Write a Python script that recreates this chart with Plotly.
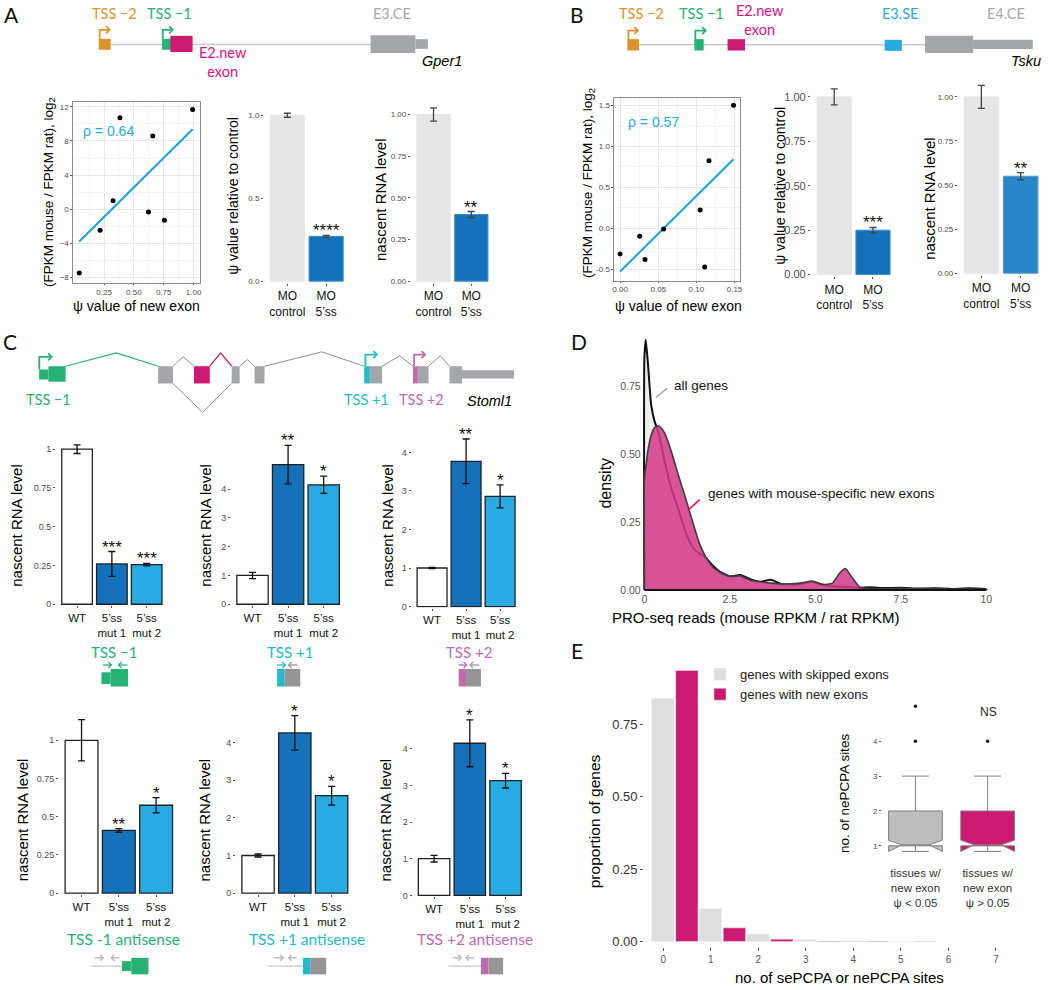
import numpy as np
import plotly.graph_objects as go

W, H = 1050, 990
FONT = "Liberation Sans"
DIAG = "Lato"

ORANGE = "#dd922c"
GREEN = "#27b273"
MAGENTA = "#cc1a72"
MAG_TXT = "#e3117f"
GREY_EX = "#a5a6a9"
SKY = "#27aae1"
TEAL = "#22bcc8"
PURPLE = "#c06ab4"
DARKBLUE = "#1472bb"
LIGHTBLUE = "#28aae2"
CTRL = "#e6e6e6"
TICK = "#4d4d4d"

# ---- panel A: Gper1
a_psi = [0.042, 0.217, 0.325, 0.383, 0.622, 0.658, 0.756, 0.992]
a_ratio = [-7.46, -2.44, 0.99, 10.72, -0.33, 8.58, -1.27, 11.69]
mo_labels = ["MO<br>control", "MO<br>5’ss"]
a_psi_rel = [1.0, 0.27]
a_psi_rel_err = [0.012, 0.006]
a_nascent = [1.0, 0.40]
a_nascent_err = [0.04, 0.018]

# ---- panel B: Tsku
b_psi = [0.0, 0.0257, 0.0326, 0.057, 0.105, 0.1109, 0.1165, 0.1487]
b_ratio = [-0.313, -0.098, -0.382, -0.008, 0.224, -0.472, 0.825, 1.504]
b_psi_rel = [1.0, 0.25]
b_psi_rel_err = [0.045, 0.015]
b_nascent = [1.0, 0.55]
b_nascent_err = [0.065, 0.02]

# ---- panel C: Stoml1 reporters
c_groups = ["WT", "5’ss<br>mut 1", "5’ss<br>mut 2"]
c_tss_m1 = [1.0, 0.26, 0.255]
c_tss_m1_err = [0.028, 0.08, 0.008]
c_tss_m1_sig = ["", "***", "***"]
c_tss_p1 = [1.0, 4.85, 4.15]
c_tss_p1_err = [0.11, 0.67, 0.30]
c_tss_p1_sig = ["", "**", "*"]
c_tss_p2 = [1.0, 3.77, 2.86]
c_tss_p2_err = [0.015, 0.58, 0.30]
c_tss_p2_sig = ["", "**", "*"]
c_as_m1 = [1.0, 0.41, 0.575]
c_as_m1_err = [0.135, 0.012, 0.05]
c_as_m1_sig = ["", "**", "*"]
c_as_p1 = [1.0, 4.26, 2.59]
c_as_p1_err = [0.04, 0.46, 0.25]
c_as_p1_sig = ["", "*", "*"]
c_as_p2 = [1.0, 4.15, 3.13]
c_as_p2_err = [0.09, 0.64, 0.20]
c_as_p2_sig = ["", "*", "*"]

# ---- panel D: PRO-seq density
d_x = [0.0, 0.04, 0.1, 0.2, 0.3, 0.4, 0.5, 0.6, 0.8, 1.0, 1.2, 1.4, 1.6, 1.8, 2.0,
       2.2, 2.5, 2.8, 3.1, 3.4, 3.7, 4.0, 4.3, 4.6, 4.9, 5.2, 5.5, 5.7, 5.88, 6.05,
       6.3, 6.6, 7.0, 7.5, 8.0, 8.5, 9.0, 9.5, 10.0]
d_all = [0.85, 0.92, 0.84, 0.68, 0.62, 0.585, 0.53, 0.47, 0.37, 0.295, 0.215, 0.16,
         0.135, 0.118, 0.09, 0.068, 0.05, 0.055, 0.04, 0.03, 0.038, 0.022, 0.02, 0.022,
         0.03, 0.02, 0.014, 0.012, 0.011, 0.01, 0.008, 0.01, 0.007, 0.008, 0.005, 0.006,
         0.004, 0.006, 0.002]
d_new = [0.41, 0.45, 0.51, 0.57, 0.597, 0.604, 0.595, 0.575, 0.505, 0.42, 0.34, 0.255,
         0.175, 0.12, 0.085, 0.066, 0.05, 0.052, 0.036, 0.03, 0.025, 0.022, 0.023, 0.026,
         0.033, 0.02, 0.025, 0.06, 0.079, 0.05, 0.01, 0.005, 0.004, 0.006, 0.004, 0.006,
         0.003, 0.003, 0.002]

# ---- panel E: PCPA sites
e_sites = [0, 1, 2, 3, 4, 5]
e_skipped = [0.84, 0.114, 0.026, 0.007, 0.002, 0.001]
e_new = [0.936, 0.047, 0.008, 0.002, 0.002, 0.001]
e_box_groups = ["tissues w/<br>new exon<br>ψ < 0.05", "tissues w/<br>new exon<br>ψ > 0.05"]
e_box_q1 = [1, 1]
e_box_med = [1, 1]
e_box_q3 = [2, 2]
e_box_lo = [1, 1]
e_box_hi = [3, 3]
e_box_notch = [0.16, 0.16]
e_out_low = [4, 5]
e_out_high = [4]

# pixel boxes (left, right, top, bottom) for the non-bar plot areas
BOXES = {
    1: (71.7, 199, 102.3, 284.3),
    4: (616, 742.3, 98.3, 281.7),
    13: (643.3, 991.7, 330, 594),
    14: (645.9, 1011.6, 660.4, 951.1),
    15: (885, 1025, 705, 862),
}


def sfx(i):
    return "" if i == 1 else str(i)


fig = go.Figure()
axes = {}
notes = []
shapes = []


def tickfont(size=8, color=TICK):
    return dict(family=FONT, size=size, color=color)


def set_axes(i, xk, yk, box=None):
    x0, x1, top, bot = box or BOXES[i]
    base = dict(showgrid=False, zeroline=False, showline=False, ticks="outside",
                ticklen=2, tickcolor="#555", fixedrange=True)
    xd = dict(base, domain=[x0 / W, x1 / W], anchor="y" + sfx(i))
    yd = dict(base, domain=[1 - bot / H, 1 - top / H], anchor="x" + sfx(i))
    xd.update(xk)
    yd.update(yk)
    axes["xaxis" + sfx(i)] = xd
    axes["yaxis" + sfx(i)] = yd


def txt(x, y, s, size=14, color="black", family=FONT, angle=0, xanchor="center"):
    notes.append(dict(x=x / W, y=1 - y / H, xref="paper", yref="paper", text=s,
                      showarrow=False, textangle=angle, xanchor=xanchor, yanchor="middle",
                      font=dict(family=family, size=size, color=color)))


def rect(x0, x1, y0, y1, color):
    shapes.append(dict(type="rect", xref="paper", yref="paper", x0=x0 / W, x1=x1 / W,
                       y0=1 - y1 / H, y1=1 - y0 / H, fillcolor=color, line=dict(width=0)))


def path(pts, color, width=1.3):
    d = "M " + " L ".join(f"{x / W:.5f},{1 - y / H:.5f}" for x, y in pts)
    shapes.append(dict(type="path", xref="paper", yref="paper", path=d,
                       line=dict(color=color, width=width)))


def tss_arrow(x, ybase, ytop, xend, color):
    path([(x, ybase), (x, ytop), (xend, ytop)], color, 1.8)
    path([(xend - 3.5, ytop - 3.5), (xend, ytop), (xend - 3.5, ytop + 3.5)], color, 1.8)


def primer(x0, x1, y, color):
    path([(x0, y), (x1, y)], color, 1.3)
    back = 3 if x1 > x0 else -3
    path([(x1 - back, y - 3), (x1, y), (x1 - back, y + 3)], color, 1.3)


# ---------------- scatter panels
def scatter_panel(i, xs, ys):
    ax = "x" + sfx(i)
    ay = "y" + sfx(i)
    fit = np.polyfit(xs, ys, 1)
    ends = np.array([min(xs), max(xs)])
    fig.add_trace(go.Scatter(x=ends, y=np.polyval(fit, ends), mode="lines",
                             line=dict(color="#1c9fe0", width=2), xaxis=ax, yaxis=ay,
                             showlegend=False, hoverinfo="skip"))
    fig.add_trace(go.Scatter(x=xs, y=ys, mode="markers", marker=dict(color="black", size=5),
                             xaxis=ax, yaxis=ay, showlegend=False))


scatter_style = dict(showline=True, mirror=True, linecolor="#8c8c8c", linewidth=1,
                     showgrid=True, gridcolor="#e8e8e8", gridwidth=1, tickfont=tickfont(8))

scatter_panel(1, a_psi, a_ratio)
set_axes(1, dict(scatter_style, range=[-0.008, 1.053], tickvals=[0.25, 0.5, 0.75, 1.0],
                 ticktext=["0.25", "0.50", "0.75", "1.00"], ticklen=1,
                 minor=dict(tickvals=[0.125, 0.375, 0.625, 0.875], showgrid=True,
                            gridcolor="#f4f4f4", ticks="")),
         dict(scatter_style, range=[-8.65, 12.58], tickvals=[-8, -4, 0, 4, 8, 12],
              minor=dict(tickvals=[-6, -2, 2, 6, 10], showgrid=True, gridcolor="#f4f4f4", ticks="")))

scatter_panel(4, b_psi, b_ratio)
set_axes(4, dict(scatter_style, range=[-0.0074, 0.1573], tickvals=[0, 0.05, 0.1, 0.15],
                 ticktext=["0.00", "0.05", "0.10", "0.15"], ticklen=1,
                 minor=dict(tickvals=[0.025, 0.075, 0.125], showgrid=True,
                            gridcolor="#f4f4f4", ticks="")),
         dict(scatter_style, range=[-0.639, 1.594], tickvals=[-0.5, 0, 0.5, 1, 1.5],
              ticktext=["-0.5", "0.0", "0.5", "1.0", "1.5"],
              minor=dict(tickvals=[-0.25, 0.25, 0.75, 1.25], showgrid=True,
                         gridcolor="#f4f4f4", ticks="")))


# ---------------- bar panels
def bar_panel(i, frame, labels, vals, errs, colors, outlines, lw, ecolor, stars,
              ytv, ytt, ysize=8, xsize=12, width=0.88):
    x0, x1, zero, ppu, ymin, ymax = frame
    ax = "x" + sfx(i)
    ay = "y" + sfx(i)
    n = len(vals)
    pos = list(range(1, n + 1))
    fig.add_trace(go.Bar(x=pos, y=vals, width=width,
                         marker=dict(color=colors, line=dict(color=outlines, width=lw)),
                         error_y=dict(type="data", array=errs, color=ecolor, thickness=1.3, width=3.5),
                         xaxis=ax, yaxis=ay, showlegend=False, hoverinfo="skip", cliponaxis=False))
    for k, s in enumerate(stars):
        if s:
            notes.append(dict(x=pos[k], y=vals[k] + errs[k], xref=ax, yref=ay, text=s,
                              showarrow=False, yanchor="bottom", yshift=-7,
                              font=dict(family=FONT, size=17, color="#111")))
    set_axes(i, dict(range=[0.4, n + 0.6], tickvals=pos, ticktext=labels,
                     tickfont=dict(family=FONT, size=xsize, color="#111")),
             dict(range=[ymin, ymax], tickvals=ytv, ticktext=ytt, tickfont=tickfont(ysize)),
             box=(x0, x1, zero - ymax * ppu, zero - ymin * ppu))


T4 = ["0.00", "0.25", "0.50", "0.75", "1.00"]
V4 = [0, 0.25, 0.5, 0.75, 1]
bar_panel(2, (263.6, 349.4, 282.3, 166.6, -0.01, 1.05), mo_labels, a_psi_rel, a_psi_rel_err,
          [CTRL, DARKBLUE], [CTRL, "#3b8fd0"], 1, "#444", ["", "****"],
          [0, 0.5, 1], ["0.0", "0.5", "1.0"])
bar_panel(3, (411.2, 494.8, 282.3, 167.3, -0.01, 1.09), mo_labels, a_nascent, a_nascent_err,
          [CTRL, DARKBLUE], [CTRL, "#3b8fd0"], 1, "#444", ["", "**"], V4, T4)
bar_panel(5, (813.6, 899.4, 275.7, 178.4, -0.01, 1.07), mo_labels, b_psi_rel, b_psi_rel_err,
          [CTRL, DARKBLUE], [CTRL, "#3b8fd0"], 1, "#444", ["", "***"], V4, T4, ysize=11)
bar_panel(6, (961.3, 1048.2, 274.3, 177.0, -0.01, 1.09), mo_labels, b_nascent, b_nascent_err,
          [CTRL, "#2a86c7"], [CTRL, "#4c9ad4"], 1, "#444", ["", "**"], V4, T4)

c_cols = ["white", DARKBLUE, LIGHTBLUE]
c_line = ["#222", "#222", "#222"]
CT1 = ["0", "0.25", "0.5", "0.75", "1"]
CV = [0, 1, 2, 3, 4]
CVT = ["0", "1", "2", "3", "4"]
bar_panel(7, (54.5, 166.5, 606.7, 155.7, -0.006, 1.1), c_groups, c_tss_m1, c_tss_m1_err,
          c_cols, c_line, 1.3, "#111", c_tss_m1_sig, V4, CT1, ysize=9, xsize=11.5)
bar_panel(8, (230.5, 345, 606.7, 28.9, -0.03, 5.8), c_groups, c_tss_p1, c_tss_p1_err,
          c_cols, c_line, 1.3, "#111", c_tss_p1_sig, CV, CVT, ysize=9, xsize=11.5)
bar_panel(9, (412, 521.5, 609, 38.67, -0.025, 4.45), c_groups, c_tss_p2, c_tss_p2_err,
          c_cols, c_line, 1.3, "#111", c_tss_p2_sig, CV, CVT, ysize=9, xsize=11.5)
bar_panel(10, (57.5, 177.5, 896.7, 153.4, -0.006, 1.15), c_groups, c_as_m1, c_as_m1_err,
          c_cols, c_line, 1.3, "#111", c_as_m1_sig, V4, CT1, ysize=9, xsize=11.5)
bar_panel(11, (235.3, 353.7, 896.7, 37.75, -0.025, 4.8), c_groups, c_as_p1, c_as_p1_err,
          c_cols, c_line, 1.3, "#111", c_as_p1_sig, CV, CVT, ysize=9, xsize=11.5)
bar_panel(12, (413, 528, 899, 36.8, -0.025, 4.9), c_groups, c_as_p2, c_as_p2_err,
          c_cols, c_line, 1.3, "#111", c_as_p2_sig, CV, CVT, ysize=9, xsize=11.5)

# ---------------- panel D densities
for ys, fillc, linec, lw in [(d_all, "#efefef", "#111", 2), (d_new, "rgba(212,56,135,0.86)", "#3d3d3d", 1.6)]:
    fig.add_trace(go.Scatter(x=[d_x[0]] + d_x + [d_x[-1]], y=[0] + ys + [0], mode="lines",
                             fill="toself", fillcolor=fillc,
                             line=dict(color=linec, width=lw, shape="spline", smoothing=0.5),
                             xaxis="x13", yaxis="y13", showlegend=False, hoverinfo="skip"))
fig.add_trace(go.Scatter(x=[d_x[0], d_x[-1]], y=[0, 0], mode="lines", line=dict(color="#111", width=2),
                         xaxis="x13", yaxis="y13", showlegend=False, hoverinfo="skip"))
set_axes(13, dict(range=[-0.08, 10.05], tickvals=[0, 2.5, 5, 7.5, 10],
                  ticktext=["0", "2.5", "5.0", "7.5", "10"], ticks="", tickfont=tickfont(10.5, "#555")),
         dict(range=[-0.006, 0.961], tickvals=[0, 0.25, 0.5, 0.75],
              ticktext=["0.00", "0.25", "0.50", "0.75"], ticks="", tickfont=tickfont(10.5, "#555")))

# ---------------- panel E
fig.add_trace(go.Bar(x=e_sites, y=e_skipped, width=0.47, offset=-0.245, marker=dict(color="#dedede"),
                     name="genes with skipped exons", xaxis="x14", yaxis="y14"))
fig.add_trace(go.Bar(x=e_sites, y=e_new, width=0.47, offset=0.262, marker=dict(color=MAGENTA),
                     name="genes with new exons", xaxis="x14", yaxis="y14"))
set_axes(14, dict(range=[-0.4, 7.25], tickvals=list(range(8)), tickfont=tickfont(10, "#555"), ticklen=3),
         dict(range=[-0.02, 0.98], tickvals=[0, 0.25, 0.5, 0.75],
              ticktext=["0.00", "0.25", "0.50", "0.75"], tickfont=tickfont(13, "#333"), ticklen=3))

for k, fillc in enumerate(["#bdbdbd", MAGENTA]):
    fig.add_trace(go.Box(x=[k], q1=[e_box_q1[k]], median=[e_box_med[k]], q3=[e_box_q3[k]],
                         lowerfence=[e_box_lo[k]], upperfence=[e_box_hi[k]], notched=True,
                         notchspan=[e_box_notch[k]], width=0.744, fillcolor=fillc,
                         line=dict(color="#808080", width=1), boxpoints=False,
                         xaxis="x15", yaxis="y15", showlegend=False, hoverinfo="skip"))
for k, outs in enumerate([e_out_low, e_out_high]):
    fig.add_trace(go.Scatter(x=[k] * len(outs), y=outs, mode="markers",
                             marker=dict(color="#111", size=3.5), xaxis="x15", yaxis="y15",
                             showlegend=False, hoverinfo="skip"))
set_axes(15, dict(range=[-0.464, 1.464], tickvals=[0, 1], ticktext=e_box_groups, ticks="",
                  ticklabelstandoff=6, tickfont=dict(family=FONT, size=11.5, color="#333")),
         dict(range=[0.637, 5.12], tickvals=[1, 2, 3, 4], tickfont=tickfont(8)))

# ---------------- axis titles and labels
RNA = "nascent RNA level"
txt(47, 193, "(FPKM mouse / FPKM rat), log<sub>2</sub>", 13.5, angle=-90)
txt(135, 307, "ψ value of new exon", 14)
txt(233, 197, "ψ value relative to control", 14, angle=-90)
txt(380, 200, RNA, 15, angle=-90)
txt(590, 184, "(FPKM mouse / FPKM rat), log<sub>2</sub>", 13.5, angle=-90)
txt(680, 307, "ψ value of new exon", 14)
txt(783, 187, "ψ value relative to control", 14, angle=-90)
txt(933, 199, RNA, 15, angle=-90)
for xx in (15, 205, 388):
    txt(xx, 527, RNA, 15, angle=-90)
for xx in (20.7, 204, 386):
    txt(xx, 823, RNA, 15, angle=-90)
txt(607, 485, "density", 16, angle=-90)
txt(758, 620, "PRO-seq reads (mouse RPKM / rat RPKM)", 15)
txt(596, 825, "proportion of genes", 15.5, angle=-90)
txt(842, 981, "no. of sePCPA or nePCPA sites", 15)
txt(848, 797, "no. of nePCPA sites", 13.5, angle=-90)
txt(991.7, 715, "NS", 12, "#222")
txt(106.7, 131.7, "ρ = 0.64", 14, SKY)
txt(655, 122, "ρ = 0.57", 14, SKY)
txt(674, 387, "all genes", 13.5, "#111", xanchor="left")
path([(657.7, 399), (669, 390)], "#aaaaaa", 1.5)
txt(708, 496, "genes with mouse-specific new exons", 13.5, "#111", xanchor="left")
path([(690.7, 511.7), (701.7, 501.7)], "#e0104f", 1.5)

# panel letters
for lx, ly, s in [(10, 15, "A"), (578, 15, "B"), (8, 343, "C"), (580, 343, "D"), (578, 653, "E")]:
    txt(lx, ly, s, 21, "#111", DIAG)

# ---------------- gene diagram A (Gper1)
path([(109, 44.7), (371, 44.7)], "#c8c8c8", 1.5)
rect(97.3, 109.3, 39, 50, ORANGE)
tss_arrow(98.3, 39, 30, 108.3, ORANGE)
rect(161, 170, 39, 50, GREEN)
tss_arrow(161.7, 39, 30, 171.7, GREEN)
rect(169.3, 191.7, 36, 52.3, MAGENTA)
rect(370.7, 415.7, 35.3, 53.3, GREY_EX)
rect(415.7, 428.3, 39.3, 49, GREY_EX)
txt(112.7, 13.3, "TSS −2", 14.5, ORANGE, DIAG)
txt(168.3, 13.3, "TSS −1", 14.5, GREEN, DIAG)
txt(392.7, 13.3, "E3.CE", 14.5, "#a8a8a8", DIAG)
txt(222, 62, "E2.new<br>exon", 14.5, MAG_TXT, DIAG)
txt(442.7, 61, "<i>Gper1</i>", 14.5)

# ---------------- gene diagram B (Tsku)
path([(635, 45), (930, 45)], "#c8c8c8", 1.5)
rect(629, 640.7, 39.3, 50.7, ORANGE)
tss_arrow(630, 39.3, 30.7, 639.5, ORANGE)
rect(696.3, 705.7, 39.3, 50.7, GREEN)
tss_arrow(697.3, 39.3, 30.7, 707.7, GREEN)
rect(729.7, 747.3, 39.3, 50.7, MAGENTA)
rect(887.7, 905, 40, 51, SKY)
rect(928.3, 976.7, 36, 53.3, GREY_EX)
rect(976.7, 1036.7, 40, 49.3, GREY_EX)
txt(643.3, 13.3, "TSS −2", 14.5, ORANGE, DIAG)
txt(703.3, 13.3, "TSS −1", 14.5, GREEN, DIAG)
txt(762, 20, "E2.new<br>exon", 14.5, MAG_TXT, DIAG)
txt(903.3, 13.3, "E3.SE", 14.5, SKY, DIAG)
txt(1010, 13.3, "E4.CE", 14.5, "#a8a8a8", DIAG)
txt(1030, 61, "<i>Tsku</i>", 14.5)

# ---------------- gene diagram C (Stoml1)
T, B_ = 367.7, 385
rect(37.3, 46.7, 371, 381, GREEN)
rect(46.7, 64, T, 383.3, GREEN)
tss_arrow(37.5, 371, 358.3, 50, GREEN)
path([(64, T), (115, 354.3), (157, T)], GREEN, 1.2)
rect(157, 172, T, B_, GREY_EX)
path([(172, T), (182.3, 358.3), (193, T)], "#8f8f8f", 1)
rect(193, 209, T, B_, MAGENTA)
path([(209, T), (220, 354.3), (231, T)], "#d0103a", 1.2)
rect(231, 239, T, B_, GREY_EX)
path([(239, T), (246.7, 361), (254, T)], "#8f8f8f", 1)
rect(254, 264, T, B_, GREY_EX)
path([(264, T), (321.7, 353.3), (364.3, T)], "#8f8f8f", 1)
rect(364.3, 370, T, B_, TEAL)
rect(370, 382.3, T, B_, GREY_EX)
tss_arrow(365.5, T, 356, 377, TEAL)
path([(382.3, T), (400, 357.3), (413.3, T)], "#8f8f8f", 1)
rect(413.3, 418.3, T, B_, PURPLE)
rect(418.3, 429, T, B_, GREY_EX)
tss_arrow(414.5, T, 356, 425.5, PURPLE)
path([(429, T), (440.7, 357.3), (450, T)], "#8f8f8f", 1)
rect(450, 462.7, T, B_, GREY_EX)
rect(462.7, 515, 371.7, 380, GREY_EX)
path([(172, B_), (201.7, 414), (231, B_)], "#8f8f8f", 1)
txt(47, 401, "TSS −1", 14.5, GREEN, DIAG)
txt(367, 401, "TSS +1", 14.5, TEAL, DIAG)
txt(422, 401, "TSS +2", 14.5, PURPLE, DIAG)
txt(490, 403, "<i>Stoml1</i>", 14.5)

# small reporter diagrams, top row
txt(113, 655, "TSS −1", 15, GREEN, DIAG)
primer(101.7, 110, 667.7, GREEN)
primer(126, 117.3, 667.7, GREEN)
rect(100, 109.3, 675, 686.7, GREEN)
rect(109.3, 126.7, 671.7, 689.3, GREEN)
txt(290, 655, "TSS +1", 15, TEAL, DIAG)
primer(276.7, 285, 667.7, TEAL)
primer(297.3, 288.3, 667.7, "#9a9a9a")
rect(276.7, 284.3, 671.7, 689.3, TEAL)
rect(284.3, 300, 671.7, 689.3, "#959595")
txt(470, 655, "TSS +2", 15, PURPLE, DIAG)
primer(459.3, 467.3, 667.7, PURPLE)
primer(480, 470.7, 667.7, "#9a9a9a")
rect(459.3, 466.7, 671.7, 689.3, PURPLE)
rect(466.7, 481.7, 671.7, 689.3, "#959595")

# small reporter diagrams, bottom row
txt(122, 943, "TSS -1 antisense", 15.5, GREEN, DIAG)
path([(89.3, 970), (121, 970)], "#c8c8c8", 1.3)
primer(93.3, 101.7, 961.7, "#b5b5b5")
primer(118.3, 110, 961.7, "#b5b5b5")
rect(120.7, 130, 965, 975, GREEN)
rect(130, 147.3, 961.7, 978.3, GREEN)
txt(307, 943, "TSS +1 antisense", 15.5, TEAL, DIAG)
path([(268.3, 970), (303, 970)], "#c8c8c8", 1.3)
primer(273.3, 282.7, 961.7, "#b5b5b5")
primer(296.7, 288.3, 961.7, "#b5b5b5")
rect(302.7, 310, 961.7, 978.3, TEAL)
rect(310, 326, 961.7, 978.3, "#959595")
txt(476, 943, "TSS +2 antisense", 15.5, PURPLE, DIAG)
path([(449.3, 970), (482, 970)], "#c8c8c8", 1.3)
primer(453.3, 461.7, 961.7, "#b5b5b5")
primer(475, 466.7, 961.7, "#b5b5b5")
rect(481.7, 489.3, 961.7, 978.3, PURPLE)
rect(489.3, 504, 961.7, 978.3, "#959595")

fig.update_layout(
    width=W, height=H,
    margin=dict(l=0, r=0, t=0, b=0),
    paper_bgcolor="white", plot_bgcolor="white",
    font=dict(family=FONT, color="#111"),
    barmode="overlay",
    showlegend=True,
    legend=dict(x=702 / W, y=1 - 662 / H, xanchor="left", yanchor="top",
                bgcolor="rgba(0,0,0,0)", font=dict(family=FONT, size=13, color="#222"),
                tracegroupgap=2),
    annotations=notes,
    shapes=shapes,
    **axes,
)

# the page body carries a default 8px margin; drop it so the figure sits at the origin
fig.write_html("out.html", config={"displayModeBar": False},
               post_script="document.body.style.margin='0';document.body.style.overflow='hidden';")
